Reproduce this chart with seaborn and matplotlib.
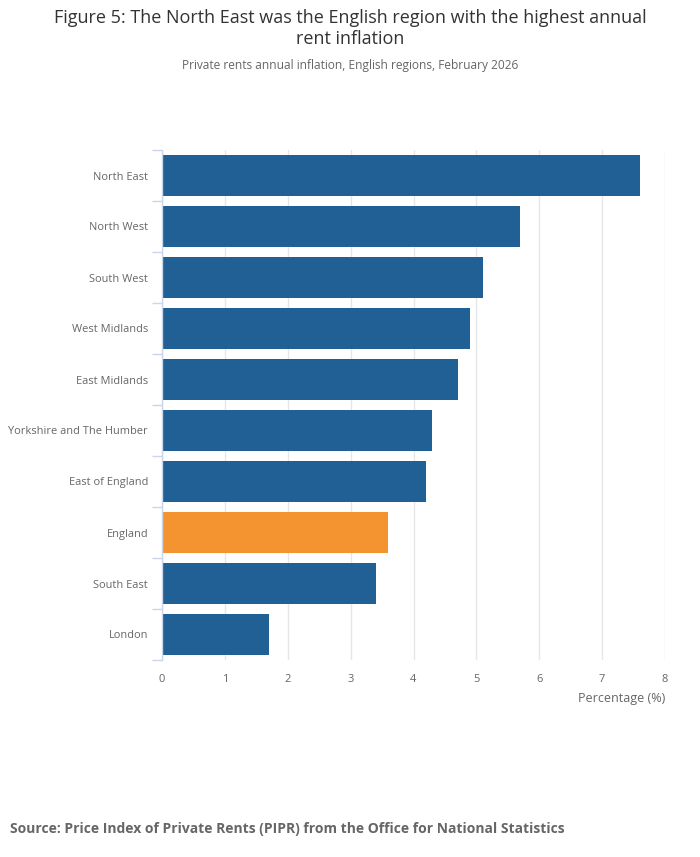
import pandas as pd
import matplotlib.pyplot as plt
import seaborn as sns

sns.set_theme(style="white")
plt.rcParams["font.family"] = ["Open Sans", "DejaVu Sans"]

regions = ["North East", "North West", "South West", "West Midlands", "East Midlands",
           "Yorkshire and The Humber", "East of England", "England", "South East", "London"]
inflation = [7.6, 5.7, 5.1, 4.9, 4.7, 4.3, 4.2, 3.6, 3.4, 1.7]
x_ticks = [0, 1, 2, 3, 4, 5, 6, 7, 8]

BLUE = "#206095"
ORANGE = "#f39431"
colours = [ORANGE if r == "England" else BLUE for r in regions]

df = pd.DataFrame({"Region": regions, "Inflation": inflation})

fig = plt.figure(figsize=(7, 8.57), dpi=100)
ax = fig.add_axes([162 / 700, 1 - 660 / 857, (665 - 162) / 700, 510 / 857])

sns.barplot(data=df, x="Inflation", y="Region", hue="Region", palette=colours,
            legend=False, width=0.8, ax=ax, saturation=1, linewidth=0)

ax.set_xlim(0, 8)
ax.set_ylim(len(regions) - 0.5, -0.5)
ax.set_xticks(x_ticks)
ax.set_xticklabels([str(t) for t in x_ticks])
ax.grid(axis="x", color="#e6e6e6", linewidth=1)
ax.set_axisbelow(True)

for side in ["top", "right", "bottom"]:
    ax.spines[side].set_visible(False)
ax.spines["left"].set_color("#ccd6eb")
ax.spines["left"].set_linewidth(1)

# tick marks sit on the category boundaries, like the original
ax.set_yticks([i - 0.5 for i in range(len(regions) + 1)], minor=True)
ax.tick_params(axis="y", which="major", length=0, pad=10, labelsize=7.9, labelcolor="#666666")
ax.tick_params(axis="y", which="minor", length=7, color="#ccd6eb", width=1, left=True)
ax.tick_params(axis="x", length=0, pad=10, labelsize=8, labelcolor="#666666")

ax.set_ylabel("")
ax.set_xlabel("Percentage (%)", fontsize=9, color="#666666")
ax.xaxis.set_label_coords(1.0, -0.062)
ax.xaxis.get_label().set_horizontalalignment("right")

fig.text(0.5, 1 - 18 / 857, "Figure 5: The North East was the English region with the highest annual",
         ha="center", va="center", fontsize=13, color="#333333")
fig.text(0.5, 1 - 39 / 857, "rent inflation",
         ha="center", va="center", fontsize=13, color="#333333")
fig.text(0.5, 1 - 65 / 857, "Private rents annual inflation, English regions, February 2026",
         ha="center", va="center", fontsize=8.6, color="#666666")
fig.text(10 / 700, 1 - 829 / 857,
         "Source: Price Index of Private Rents (PIPR) from the Office for National Statistics",
         ha="left", va="center", fontsize=10, fontweight="bold", color="#666666")

fig.savefig("out.png", dpi=100)
